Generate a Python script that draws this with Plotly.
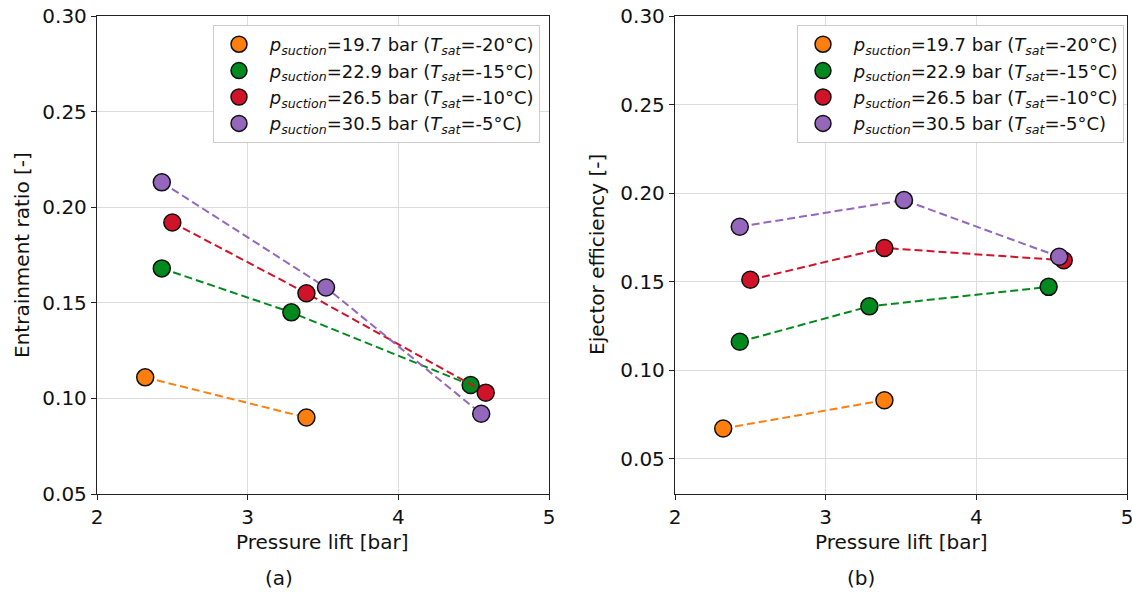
import plotly.graph_objects as go

# ---- data ----
series_names = [
    "&nbsp;<i>p</i><sub><i>suction</i></sub>=19.7 bar (<i>T</i><sub><i>sat</i></sub>=-20°C)",
    "&nbsp;<i>p</i><sub><i>suction</i></sub>=22.9 bar (<i>T</i><sub><i>sat</i></sub>=-15°C)",
    "&nbsp;<i>p</i><sub><i>suction</i></sub>=26.5 bar (<i>T</i><sub><i>sat</i></sub>=-10°C)",
    "&nbsp;<i>p</i><sub><i>suction</i></sub>=30.5 bar (<i>T</i><sub><i>sat</i></sub>=-5°C)",
]
colors = ["#ff7f0e", "#008a1e", "#d1132a", "#9467bd"]

lift_19_7 = [2.32, 3.39]
lift_22_9 = [2.43, 3.29, 4.48]
lift_26_5 = [2.50, 3.39, 4.58]
lift_30_5 = [2.43, 3.52, 4.55]

er_19_7 = [0.111, 0.090]
er_22_9 = [0.168, 0.145, 0.107]
er_26_5 = [0.192, 0.155, 0.103]
er_30_5 = [0.213, 0.158, 0.092]

eff_19_7 = [0.067, 0.083]
eff_22_9 = [0.116, 0.136, 0.147]
eff_26_5 = [0.151, 0.169, 0.162]
eff_30_5 = [0.181, 0.196, 0.164]

x_ticks = [2, 3, 4, 5]
y_ticks = [0.05, 0.10, 0.15, 0.20, 0.25, 0.30]

lifts = [lift_19_7, lift_22_9, lift_26_5, lift_30_5]
ers = [er_19_7, er_22_9, er_26_5, er_30_5]
effs = [eff_19_7, eff_22_9, eff_26_5, eff_30_5]

W, H = 1132, 596
FONT = "DejaVu Sans"

fig = go.Figure()

def add_panel(ys, xa, ya, legend, tag):
    for i, (name, col, xs, yv) in enumerate(zip(series_names, colors, lifts, ys)):
        fig.add_trace(go.Scatter(
            x=xs, y=yv, mode="lines", xaxis=xa, yaxis=ya,
            line=dict(color=col, width=2, dash="8px,4px"),
            showlegend=False, hoverinfo="skip"))
        fig.add_trace(go.Scatter(
            x=xs, y=yv, mode="markers", xaxis=xa, yaxis=ya, name=name,
            legend=legend, legendgroup=f"{tag}{i}",
            marker=dict(color=col, size=17, line=dict(color="#111111", width=1.5))))

add_panel(ers, "x", "y", "legend", "a")
add_panel(effs, "x2", "y2", "legend2", "b")

axis_common = dict(
    showline=True, linecolor="#222222", linewidth=1.3, mirror=True,
    ticks="outside", ticklen=5, tickwidth=1.2, tickcolor="#222222",
    showgrid=True, gridcolor="#dcdcdc", gridwidth=1, zeroline=False,
    automargin=False, ticklabeloverflow="allow",
    tickfont=dict(family=FONT, size=20, color="#111111"),
)

y_top, y_bot = 1 - 16 / H, 1 - 494 / H

legend_common = dict(
    xanchor="left", yanchor="top", bgcolor="white", bordercolor="#cccccc",
    borderwidth=1, itemwidth=40, tracegroupgap=0,
    font=dict(family=FONT, size=18, color="#111111"),
)

fig.update_layout(
    width=W, height=H,
    margin=dict(l=0, r=0, t=0, b=0, pad=0),
    paper_bgcolor="white", plot_bgcolor="white",
    font=dict(family=FONT, color="#111111"),
    xaxis=dict(domain=[97 / W, 549 / W], range=[2, 5], tickvals=x_ticks,
               anchor="y", **axis_common),
    yaxis=dict(domain=[y_bot, y_top], range=[0.05, 0.30], tickvals=y_ticks,
               tickformat=".2f", anchor="x", **axis_common),
    xaxis2=dict(domain=[675 / W, 1127 / W], range=[2, 5], tickvals=x_ticks,
                anchor="y2", **axis_common),
    yaxis2=dict(domain=[y_bot, y_top], range=[0.03, 0.30], tickvals=y_ticks,
                tickformat=".2f", anchor="x2", **axis_common),
    legend=dict(x=213 / W, y=1 - 25 / H, **legend_common),
    legend2=dict(x=797 / W, y=1 - 25 / H, **legend_common),
    showlegend=True,
)

annots = [
    dict(text="Pressure lift [bar]", x=323 / W, y=1 - 542 / H),
    dict(text="Pressure lift [bar]", x=901 / W, y=1 - 542 / H),
    dict(text="Entrainment ratio [-]", x=22 / W, y=1 - 255 / H, textangle=-90),
    dict(text="Ejector efficiency [-]", x=597 / W, y=1 - 255 / H, textangle=-90),
    dict(text="(a)", x=279 / W, y=1 - 578 / H),
    dict(text="(b)", x=861 / W, y=1 - 578 / H),
]
for a in annots:
    fig.add_annotation(xref="paper", yref="paper", showarrow=False,
                       xanchor="center", yanchor="middle",
                       font=dict(family=FONT, size=20, color="#111111"), **a)

fig.write_html("out.html", config={"displayModeBar": False},
               post_script="document.body.style.margin='0';")
